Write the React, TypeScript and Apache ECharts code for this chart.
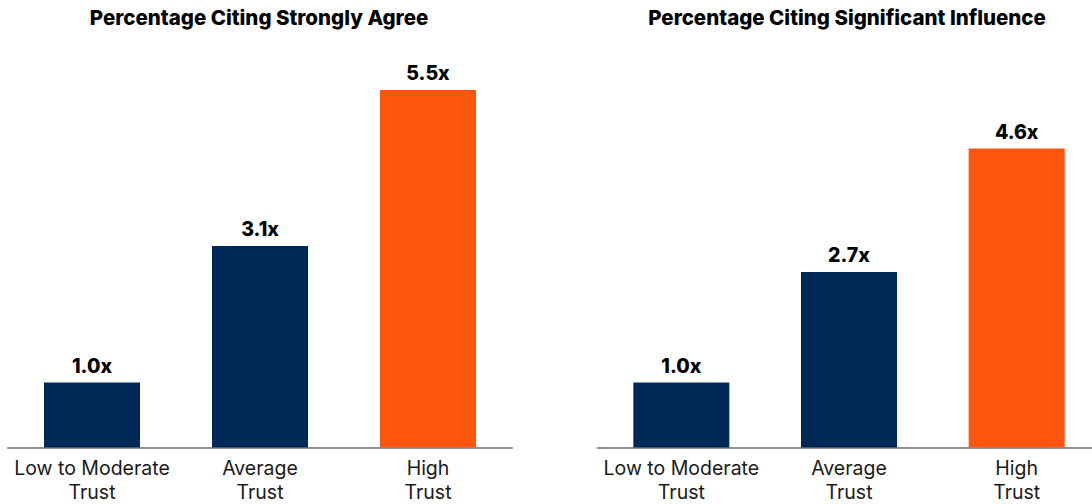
import React, { useEffect, useRef } from "react";
import * as echarts from "echarts";

const categories = ["Low to Moderate\nTrust", "Average\nTrust", "High\nTrust"];
const agreeValues = [1.0, 3.1, 5.5];
const influenceValues = [1.0, 2.7, 4.6];
const panelTitles = ["Percentage Citing Strongly Agree", "Percentage Citing Significant Influence"];

const NAVY = "#002856";
const ORANGE = "#FF550E";
const FONT = "Inter, 'Noto Sans', sans-serif";

export default function App() {
  const ref = useRef<HTMLDivElement>(null);
  useEffect(() => {
    document.body.style.margin = "0";
    const chart = echarts.init(ref.current!, undefined, { renderer: "svg" });
    const grids = [
      { left: 8, width: 504, top: 57.5, height: 390, outerBoundsMode: "none", containLabel: false },
      { left: 597.5, width: 503, top: 57.5, height: 390, outerBoundsMode: "none", containLabel: false },
    ];
    const seriesData = [agreeValues, influenceValues];
    const titleCenters = [254, 842];
    chart.setOption({
      animation: false,
      backgroundColor: "#ffffff",
      title: panelTitles.map((t, i) => ({
        text: t,
        left: titleCenters[i],
        top: 2,
        textAlign: "center",
        textStyle: { fontFamily: FONT, fontWeight: 800, fontSize: 20.5, color: "#000000" },
      })),
      grid: grids,
      xAxis: grids.map((_, i) => ({
        type: "category",
        gridIndex: i,
        data: categories,
        axisLine: { show: true, lineStyle: { color: "#89928f", width: 2 } },
        axisTick: { show: false },
        axisLabel: {
          fontFamily: FONT,
          fontSize: 19.5,
          lineHeight: 24,
          color: "#1a1a1a",
          margin: 8,
          interval: 0,
        },
      })),
      yAxis: grids.map((_, i) => ({
        type: "value",
        gridIndex: i,
        min: 0,
        max: 6,
        show: false,
        splitLine: { show: false },
      })),
      series: seriesData.map((vals, i) => ({
        type: "bar",
        xAxisIndex: i,
        yAxisIndex: i,
        data: vals,
        barWidth: 96,
        itemStyle: {
          color: (p: any) => (p.dataIndex === vals.length - 1 ? ORANGE : NAVY),
        },
        label: {
          show: true,
          position: "top",
          distance: 7,
          fontFamily: FONT,
          fontWeight: 800,
          fontSize: 19.5,
          color: "#000000",
          formatter: (p: any) => `${Number(p.value).toFixed(1)}x`,
        },
      })),
    });
    return () => chart.dispose();
  }, []);
  return <div ref={ref} style={{ width: 1092, height: 504 }} />;
}
